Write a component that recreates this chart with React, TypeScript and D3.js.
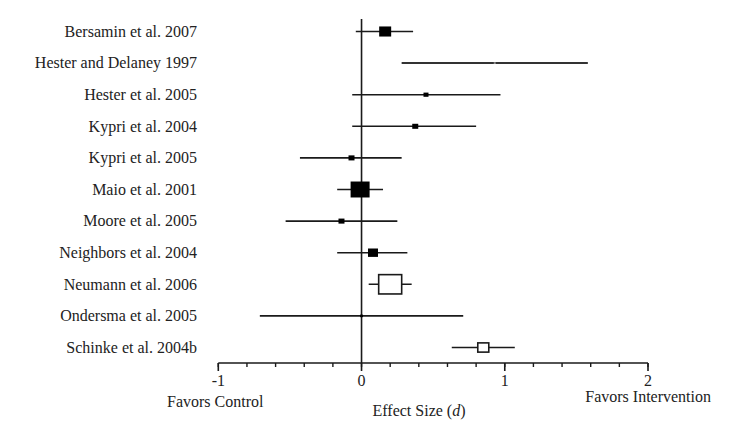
import React from "react";
import * as d3 from "d3";

const studies = [
  "Bersamin et al. 2007",
  "Hester and Delaney 1997",
  "Hester et al. 2005",
  "Kypri et al. 2004",
  "Kypri et al. 2005",
  "Maio et al. 2001",
  "Moore et al. 2005",
  "Neighbors et al. 2004",
  "Neumann et al. 2006",
  "Ondersma et al. 2005",
  "Schinke et al. 2004b",
];
const effects = [0.165, 0.93, 0.45, 0.375, -0.07, -0.01, -0.14, 0.08, 0.2, 0.0, 0.85];
const lower = [-0.04, 0.28, -0.065, -0.065, -0.43, -0.17, -0.53, -0.17, 0.05, -0.71, 0.63];
const upper = [0.36, 1.58, 0.97, 0.8, 0.28, 0.15, 0.25, 0.32, 0.35, 0.71, 1.07];
const weights = [12, 2, 5, 6, 6, 19, 6, 10, 23, 3, 11];
const hollow = [false, false, false, false, false, false, false, false, true, false, true];
const majorTicks = [-1, 0, 1, 2];
const minorTicks = d3.range(-1, 2.0001, 0.2);

function Label(props: any) {
  const { x, y, anchor, children } = props;
  const k = 16 / 24;
  return (
    <g transform={`translate(${x},${y}) scale(${k})`}>
      <text
        x={0}
        y={0}
        dy="0.33em"
        textAnchor={anchor || "start"}
        fontSize={24}
        fill="#222"
        style={{ fontFamily: '"Liberation Serif"' }}
      >
        {children}
      </text>
    </g>
  );
}

export default function App() {
  const W = 750;
  const H = 440;
  const x = d3.scaleLinear().domain([-1, 2]).range([218.3, 648]);
  const y = d3.scalePoint<string>().domain(studies).range([31.5, 347.5]);
  const axisY = 363;
  const ink = "#1a1a1a";

  return (
    <svg width={W} height={H} style={{ position: "absolute", left: 0, top: 0 }}>
      <line x1={x(0)} x2={x(0)} y1={19} y2={axisY} stroke={ink} strokeWidth={1.6} />
      {studies.map((s, i) => {
        const cy = y(s)!;
        const w = weights[i];
        const h = w * 0.84;
        return (
          <g key={s}>
            <Label x={197} y={cy} anchor="end">
              {s}
            </Label>
            <line
              x1={x(lower[i])}
              x2={x(upper[i])}
              y1={cy}
              y2={cy}
              stroke={i === 1 ? "#333" : ink}
              strokeWidth={i === 1 ? 2 : 1.6}
            />
            <rect
              x={x(effects[i]) - w / 2}
              y={cy - h / 2}
              width={w}
              height={h}
              fill={hollow[i] ? "#fff" : i === 1 ? "#999" : "#000"}
              stroke={hollow[i] ? ink : "none"}
              strokeWidth={1.6}
            />
          </g>
        );
      })}
      <line x1={x(-1)} x2={x(2)} y1={axisY} y2={axisY} stroke={ink} strokeWidth={1.6} />
      {minorTicks.map((t) => (
        <line key={"m" + t} x1={x(t)} x2={x(t)} y1={axisY} y2={axisY + 4} stroke={ink} strokeWidth={1.4} />
      ))}
      {majorTicks.map((t) => (
        <g key={"M" + t}>
          <line x1={x(t)} x2={x(t)} y1={axisY} y2={axisY + 8} stroke={ink} strokeWidth={1.6} />
          <Label x={x(t)} y={381} anchor="middle">
            {t}
          </Label>
        </g>
      ))}
      <Label x={167} y={402}>
        Favors Control
      </Label>
      <Label x={711} y={397} anchor="end">
        Favors Intervention
      </Label>
      <Label x={419} y={411} anchor="middle">
        Effect Size (<tspan fontStyle="italic">d</tspan>)
      </Label>
    </svg>
  );
}
